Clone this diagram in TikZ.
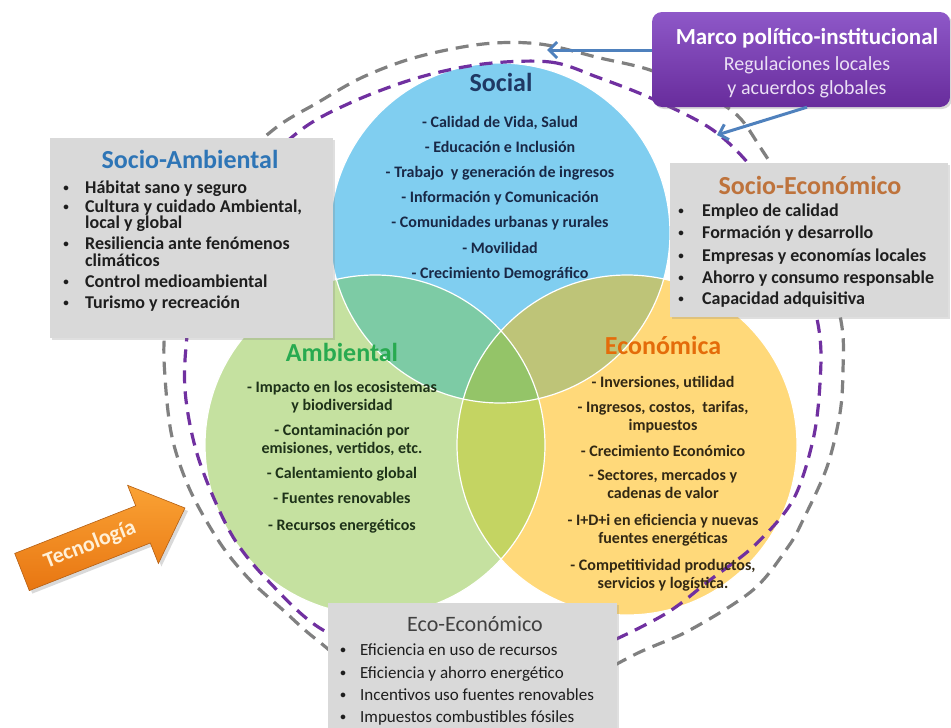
\documentclass[tikz,border=0pt]{standalone}
\usepackage{fontspec}
\setmainfont{Carlito}
\usetikzlibrary{arrows.meta,shadows}
\definecolor{cBlue}{RGB}{128,206,240}
\definecolor{cGreen}{RGB}{197,225,160}
\definecolor{cYellow}{RGB}{255,217,122}
\definecolor{cBG}{RGB}{125,203,165}
\definecolor{cBY}{RGB}{190,196,120}
\definecolor{cGY}{RGB}{196,212,98}
\definecolor{cBGY}{RGB}{148,196,104}
\definecolor{socT}{RGB}{31,56,100}
\definecolor{socI}{RGB}{25,40,70}
\definecolor{ambT}{RGB}{40,170,80}
\definecolor{ambI}{RGB}{30,50,25}
\definecolor{ecoT}{RGB}{228,108,10}
\definecolor{ecoI}{RGB}{50,40,20}
\definecolor{saT}{RGB}{46,117,182}
\definecolor{seT}{RGB}{190,115,60}
\definecolor{eeT}{RGB}{64,64,64}
\definecolor{bulT}{RGB}{30,30,30}
\definecolor{boxG}{RGB}{217,217,217}
\definecolor{ringG}{RGB}{128,128,128}
\definecolor{ringP}{RGB}{112,48,160}
\definecolor{arrB}{RGB}{79,129,189}
\definecolor{mcTop}{RGB}{142,88,200}
\definecolor{mcBot}{RGB}{104,44,156}
\definecolor{mcSub}{RGB}{235,224,245}
\definecolor{tecTop}{RGB}{250,162,52}
\definecolor{tecBot}{RGB}{232,118,18}
\definecolor{tecLine}{RGB}{180,95,20}
\definecolor{tecTxt}{RGB}{255,240,215}
\begin{document}
\begin{tikzpicture}[x=1pt,y=-1pt,
  ttl/.style={font=\bfseries\fontsize{26}{30}\selectfont, anchor=base, inner sep=0pt},
  itm/.style={font=\bfseries\fontsize{16}{18}\selectfont, anchor=base, inner sep=0pt},
  bul/.style={font=\bfseries\fontsize{18}{20}\selectfont, anchor=base, inner sep=0pt, text=bulT},
  bulL/.style={bul, anchor=base west},
  dot/.style={font=\bfseries\fontsize{11}{12}\selectfont, anchor=base, inner sep=0pt, text=bulT, yshift=1.2pt},
  eebul/.style={font=\fontsize{17}{20}\selectfont, anchor=base, inner sep=0pt, text=bulT},
  eebulL/.style={eebul, anchor=base west},
  gbox/.style={fill=boxG, draw=none, inner sep=0pt, drop shadow={shadow xshift=2pt, shadow yshift=-2pt, opacity=0.25}},
  ring/.style={line width=3.2pt, dash pattern=on 13pt off 8pt},
  barrow/.style={draw=arrB, line width=3pt, -{Straight Barb[length=8pt,width=16pt]}},
  circedge/.style={draw=white, line width=1.2pt}
]
\path[use as bounding box] (0,0) rectangle (951,728);
\fill[white] (0,0) rectangle (951,728);

\coordinate (cS) at (500,233);
\coordinate (cA) at (375,445);
\coordinate (cE) at (627,445);

% Social circle and its text
\fill[cBlue] (cS) circle[radius=170pt];
\node[ttl, text=socT] (tS) at (501,91) {Social};
\node[itm, text=socI] (s1) at (500,127) {- Calidad de Vida, Salud};
\node[itm, text=socI] (s2) at (500,152) {- Educación e Inclusión};
\node[itm, text=socI] (s3) at (500,177) {- Trabajo\ \ y generación de ingresos};
\node[itm, text=socI] (s4) at (500,202) {- Información y Comunicación};
\node[itm, text=socI] (s5) at (500,227) {- Comunidades urbanas y rurales};
\node[itm, text=socI] (s6) at (500,253) {- Movilidad};
\node[itm, text=socI] (s7) at (500,278) {- Crecimiento Demográfico};

% other circles and overlaps
\fill[cGreen] (cA) circle[radius=170pt];
\fill[cYellow] (cE) circle[radius=170pt];
\begin{scope}
  \clip (cA) circle[radius=170pt];
  \fill[cGY] (cE) circle[radius=170pt];
\end{scope}
\begin{scope}
  \clip (cS) circle[radius=170pt];
  \fill[cBG] (cA) circle[radius=170pt];
  \fill[cBY] (cE) circle[radius=170pt];
  \clip (cA) circle[radius=170pt];
  \fill[cBGY] (cE) circle[radius=170pt];
\end{scope}
\draw[circedge] (cS) circle[radius=170pt];
\draw[circedge] (cA) circle[radius=170pt];
\draw[circedge] (cE) circle[radius=170pt];

% dashed rings
\draw[ring, draw=ringG] plot[smooth cycle, tension=0.55] coordinates {
 (483,44) (540,44) (600,58) (650,70) (700,92) (737,115) (762,150) (800,210) (828,270)
 (842,327) (843,370) (840,413) (827,467) (803,520) (788,547) (753,590) (690,630) (640,652)
 (560,690) (470,700) (380,685) (317,640) (283,610) (250,580) (220,543) (190,490) (172,437)
 (165,377) (165,330) (178,250) (215,185) (273,130) (317,103) (363,77) (417,57)};
\draw[ring, draw=ringP] plot[smooth cycle, tension=0.55] coordinates {
 (483,64) (550,62) (597,77) (655,100) (717,133) (765,185) (800,255) (819,330) (820,383)
 (813,440) (793,500) (755,545) (710,580) (660,617) (575,655) (485,668) (395,658) (323,630)
 (275,588) (233,537) (200,463) (186,400) (186,347) (198,270) (235,195) (297,133) (350,103) (417,78)};

% Ambiental text
\node[ttl, text=ambT] (tA) at (342,361) {Ambiental};
\node[itm, text=ambI] (a1) at (342,392) {- Impacto en los ecosistemas};
\node[itm, text=ambI] (a2) at (342,410) {y biodiversidad};
\node[itm, text=ambI] (a3) at (342,435) {- Contaminación por};
\node[itm, text=ambI] (a4) at (342,453) {emisiones, vertidos, etc.};
\node[itm, text=ambI] (a5) at (342,478) {- Calentamiento global};
\node[itm, text=ambI] (a6) at (342,503) {- Fuentes renovables};
\node[itm, text=ambI] (a7) at (342,530) {- Recursos energéticos};

% Economica text
\node[ttl, text=ecoT] (tE) at (663,354) {Económica};
\node[itm, text=ecoI] (e1) at (663,387) {- Inversiones, utilidad};
\node[itm, text=ecoI] (e2) at (663,412) {- Ingresos, costos,\ \ tarifas,};
\node[itm, text=ecoI] (e3) at (663,430) {impuestos};
\node[itm, text=ecoI] (e4) at (663,456) {- Crecimiento Económico};
\node[itm, text=ecoI] (e5) at (663,480) {- Sectores, mercados y};
\node[itm, text=ecoI] (e6) at (663,498) {cadenas de valor};
\node[itm, text=ecoI] (e7) at (663,525) {- I+D+i en eficiencia y nuevas};
\node[itm, text=ecoI] (e8) at (663,543) {fuentes energéticas};
\node[itm, text=ecoI] (e9) at (663,570) {- Competitividad productos,};
\node[itm, text=ecoI] (e10) at (663,588) {servicios y logística.};

% Socio-Ambiental box
\node[gbox, minimum width=283pt, minimum height=200pt] (sabox) at (191.5,238) {};
\node[ttl, text=saT] (saT) at (190,168) {Socio-Ambiental};
\node[dot] (sab1) at (66,193) {•};
\node[bulL] (sat1) at (85,193) {Hábitat sano y seguro};
\node[dot] (sab2) at (66,212) {•};
\node[bulL] (sat2) at (85,212) {Cultura y cuidado Ambiental,};
\node[bulL] (sat2b) at (85,228) {local y global};
\node[dot] (sab3) at (66,249) {•};
\node[bulL] (sat3) at (85,249) {Resiliencia ante fenómenos};
\node[bulL] (sat3b) at (85,266) {climáticos};
\node[dot] (sab4) at (66,287) {•};
\node[bulL] (sat4) at (85,287) {Control medioambiental};
\node[dot] (sab5) at (66,308) {•};
\node[bulL] (sat5) at (85,308) {Turismo y recreación};

% Socio-Economico box
\node[gbox, minimum width=278pt, minimum height=154pt] (sebox) at (809,240) {};
\node[ttl, text=seT] (seT) at (810,194) {Socio-Económico};
\node[dot] (seb1) at (681,216) {•};
\node[bulL] (set1) at (702,216) {Empleo de calidad};
\node[dot] (seb2) at (681,238) {•};
\node[bulL] (set2) at (702,238) {Formación y desarrollo};
\node[dot] (seb3) at (681,261) {•};
\node[bulL] (set3) at (702,261) {Empresas y economías locales};
\node[dot] (seb4) at (681,283) {•};
\node[bulL] (set4) at (702,283) {Ahorro y consumo responsable};
\node[dot] (seb5) at (681,304) {•};
\node[bulL] (set5) at (702,304) {Capacidad adquisitiva};

% Eco-Economico box
\node[gbox, minimum width=289pt, minimum height=135pt] (eebox) at (472.5,670.5) {};
\node[font=\fontsize{22}{26}\selectfont, anchor=base, inner sep=0pt, text=eeT] (eeT) at (475,631) {Eco-Económico};
\node[dot] (eeb1) at (343,655) {•};
\node[eebulL] (eet1) at (360,655) {Eficiencia en uso de recursos};
\node[dot] (eeb2) at (343,678) {•};
\node[eebulL] (eet2) at (360,678) {Eficiencia y ahorro energético};
\node[dot] (eeb3) at (343,700) {•};
\node[eebulL] (eet3) at (360,700) {Incentivos uso fuentes renovables};
\node[dot] (eeb4) at (343,722) {•};
\node[eebulL] (eet4) at (360,722) {Impuestos combustibles fósiles};

% Marco box and arrows
\node[rounded corners=10pt, top color=mcTop, bottom color=mcBot, draw=none,
      minimum width=298pt, minimum height=95pt,
      drop shadow={shadow xshift=2pt, shadow yshift=-2pt, opacity=0.3}] (marco) at (801,59.5) {};
\node[font=\bfseries\fontsize{23}{26}\selectfont, anchor=base, inner sep=0pt, text=white] (mT) at (807,44) {Marco político-institucional};
\node[font=\fontsize{20}{24}\selectfont, anchor=base, inner sep=0pt, text=mcSub] (mS1) at (807,70) {Regulaciones locales};
\node[font=\fontsize{20}{24}\selectfont, anchor=base, inner sep=0pt, text=mcSub] (mS2) at (807,94) {y acuerdos globales};
\coordinate (tip1) at (547,50);
\coordinate (tip2) at (717,135);
\draw[barrow] ([yshift=9.5pt]marco.west) -- (tip1);
\draw[barrow] ([xshift=6pt]marco.south) -- (tip2);

% Tecnologia arrow
\fill[black, opacity=0.15] (17.7,556.4) -- (138.7,508.8) -- (130.6,488.3) -- (188,511) -- (161.4,566.5) -- (153.3,546.0) -- (32.3,593.6) -- cycle;
\shade[top color=tecTop, bottom color=tecBot]
  (14.7,553.4) -- (135.7,505.8) -- (127.6,485.3) -- (185,508) -- (158.4,563.5) -- (150.3,543.0) -- (29.3,590.6) -- cycle;
\draw[tecLine, line width=0.6pt]
  (14.7,553.4) -- (135.7,505.8) -- (127.6,485.3) -- (185,508) -- (158.4,563.5) -- (150.3,543.0) -- (29.3,590.6) -- cycle;
\node[font=\bfseries\fontsize{22}{24}\selectfont, text=tecTxt, rotate=21.4, inner sep=0pt] (tec) at (90,545) {Tecnología};
\end{tikzpicture}
\end{document}
